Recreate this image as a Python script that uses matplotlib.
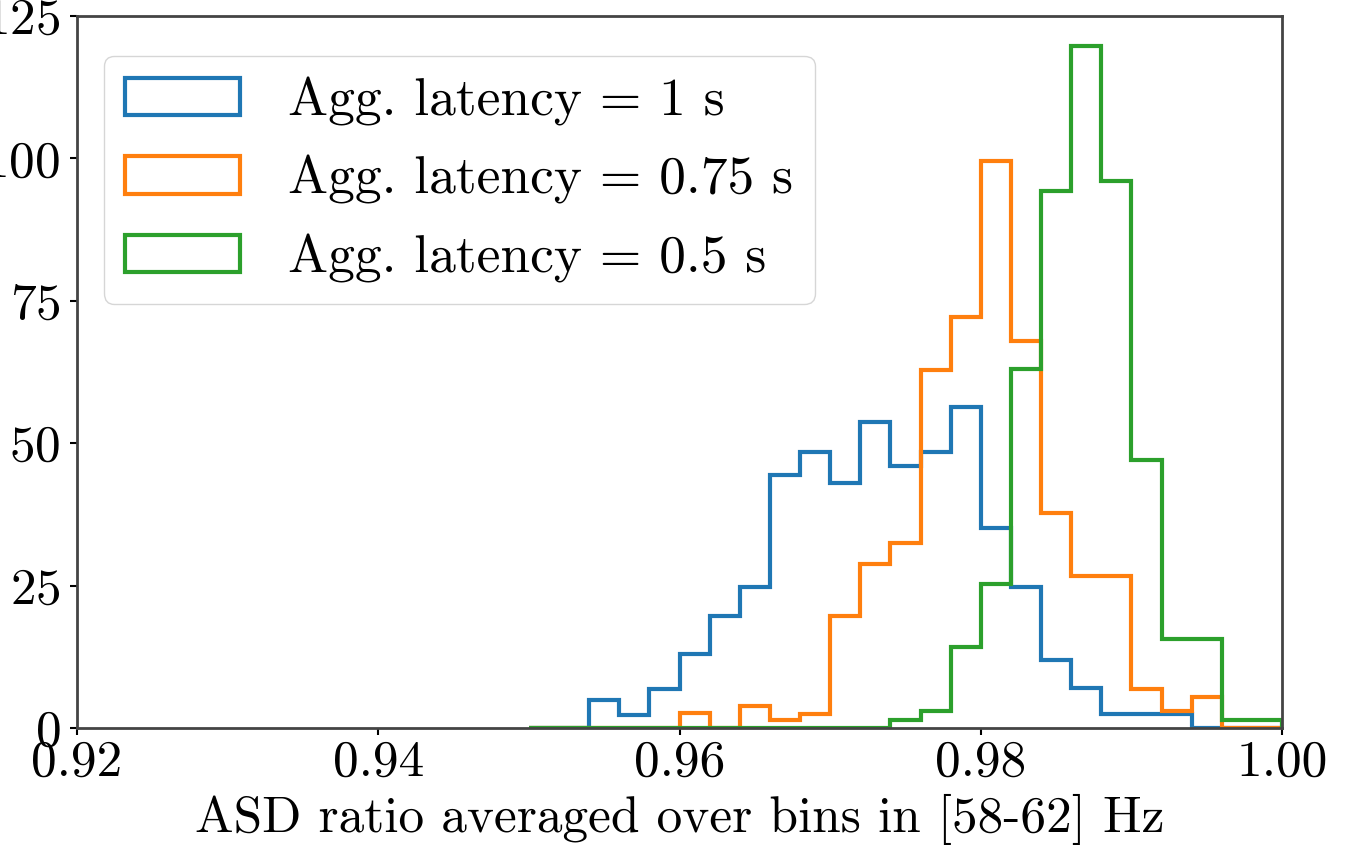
import numpy as np
import matplotlib
matplotlib.use("Agg")
import matplotlib.pyplot as plt
from matplotlib.ticker import FormatStrFormatter

plt.rcParams["font.family"] = "cmr10"
plt.rcParams["mathtext.fontset"] = "cm"
plt.rcParams["axes.formatter.use_mathtext"] = True

# histogram bin edges (0.002 wide, 0.950 .. 1.000)
edges = np.round(np.arange(0.95, 1.0001, 0.002), 3)

# heights, one per bin
lat_1 = [0, 0, 5, 2.3, 6.8, 13, 19.6, 24.8, 44.5, 48.4, 43, 53.8, 46, 48.4,
         56.3, 35.2, 24.8, 12, 7, 2.5, 2.5, 2.5, 0, 0, 0]
lat_075 = [0, 0, 0, 0, 0, 2.6, 0, 3.8, 1.4, 2.5, 19.6, 28.8, 32.5, 62.9,
           72.1, 99.6, 67.9, 37.7, 26.6, 26.6, 6.8, 2.9, 5.4, 0, 0]
lat_05 = [0, 0, 0, 0, 0, 0, 0, 0, 0, 0, 0, 0, 1.4, 2.9, 14.3, 25.2, 63,
          94.3, 119.8, 96, 47, 15.7, 15.7, 1.4, 1.4]

labels = ["Agg. latency = 1 s", "Agg. latency = 0.75 s",
          "Agg. latency = 0.5 s"]
colors = ["#1f77b4", "#ff7f0e", "#2ca02c"]

centers = (edges[:-1] + edges[1:]) / 2

fig = plt.figure(figsize=(13.45, 8.49), dpi=100)
ax = fig.add_axes([77 / 1345, 1 - 728 / 849, (1282 - 77) / 1345, (728 - 16) / 849])

for vals, lab, col in zip([lat_1, lat_075, lat_05], labels, colors):
    ax.hist(centers, bins=edges, weights=vals, histtype="step",
            color=col, linewidth=3, label=lab)

ax.set_xlim(0.92, 1.00)
ax.set_ylim(0, 125)
ax.set_xticks([0.92, 0.94, 0.96, 0.98, 1.00])
ax.set_yticks([0, 25, 50, 75, 100, 125])
ax.xaxis.set_major_formatter(FormatStrFormatter("%.2f"))
ax.tick_params(labelsize=37, width=1.5, length=5)
ax.tick_params(axis="y", pad=7)
for s in ax.spines.values():
    s.set_linewidth(2)
    s.set_color("#444444")

ax.set_xlabel("ASD ratio averaged over bins in [58-62] Hz", fontsize=37, labelpad=6)
ax.legend(loc="upper left", fontsize=38.5, framealpha=0.8,
          handlelength=2.15, handletextpad=0.9, labelspacing=0.55,
          bbox_to_anchor=(0.0, 0.982))

fig.savefig("out.png", dpi=100)
